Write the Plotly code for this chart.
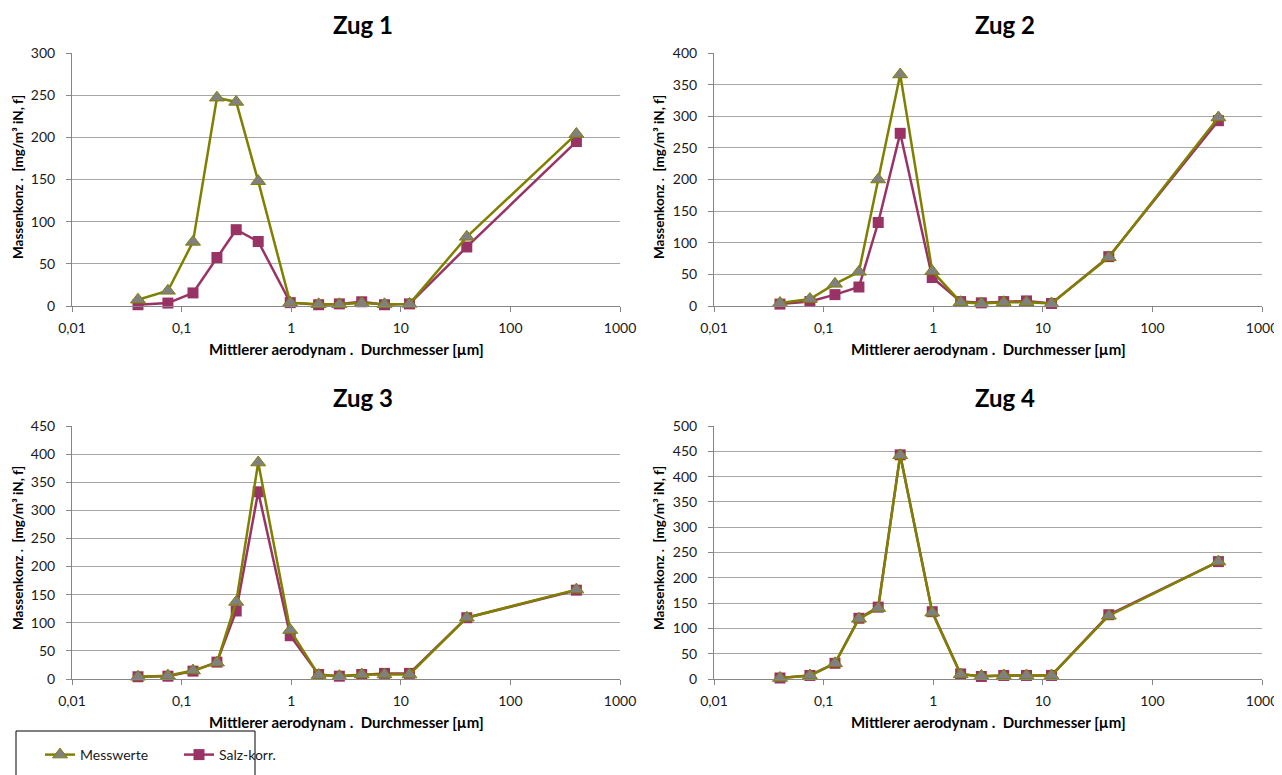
import plotly.graph_objects as go

# ---- data ----
diameters = [0.04, 0.075, 0.127, 0.21, 0.315, 0.5, 0.98, 1.78, 2.75, 4.4, 7.1, 12, 40, 400]
zug1_mess = [7.5, 18, 76, 247, 242, 148, 4, 2, 2, 3.5, 2, 2.5, 82, 204]
zug1_salz = [1.5, 3.5, 15.5, 57.5, 90.5, 76.5, 4, 1.5, 2.5, 5, 1.5, 2.5, 70, 195]
zug2_mess = [4.7, 11, 35, 54, 200, 366, 55, 6, 4, 6, 6, 4, 77, 298]
zug2_salz = [3, 7, 18, 30, 132, 273, 45, 7, 5, 7, 8, 4, 78, 293]
zug3_mess = [4, 6, 15, 29, 137, 385, 87, 7, 5, 8, 8, 8, 109, 159]
zug3_salz = [4, 5, 14, 30, 121, 333, 77, 8, 5, 8, 10, 10, 109, 158]
zug4_mess = [2, 7, 31, 119, 140, 442, 131, 9, 6, 7, 7, 7, 125, 232]
zug4_salz = [2, 7, 31, 120, 142, 443, 133, 10, 5, 7, 7, 7, 127, 232]

panel_titles = ["Zug 1", "Zug 2", "Zug 3", "Zug 4"]
y_max = [300, 400, 450, 500]
x_tickvals = [0.01, 0.1, 1, 10, 100, 1000]
x_ticktext = ["0,01", "0,1", "1", "10", "100", "1000"]
series_names = ["Messwerte", "Salz-korr."]

mess = [zug1_mess, zug2_mess, zug3_mess, zug4_mess]
salz = [zug1_salz, zug2_salz, zug3_salz, zug4_salz]

# page is shown with an 8px body margin, so figure coords = page coords - 8
OFF = 8
W, H = 1282 - OFF, 775 - OFF
OLIVE = "#808000"
GRAYM = "#808080"
BERRY = "#993366"
FONT = "Lato"


def px(xp):
    return (xp - OFF) / W


def py(yp):
    return 1 - (yp - OFF) / H


# panel pixel boxes in page coords: (left, right, top, bottom)
boxes = [(72, 620, 53, 306), (714, 1262, 53, 306),
         (72, 620, 426, 679), (714, 1262, 426, 679)]

fig = go.Figure()

for i in range(4):
    l, r, t, b = boxes[i]
    xa = "x" if i == 0 else f"x{i+1}"
    ya = "y" if i == 0 else f"y{i+1}"
    fig.add_trace(go.Scatter(
        x=diameters, y=salz[i], mode="lines+markers", name=series_names[1],
        xaxis=xa, yaxis=ya, legendgroup="s", showlegend=(i == 2), legendrank=2,
        line=dict(color=BERRY, width=2.5),
        marker=dict(symbol="square", size=11, color=BERRY),
        cliponaxis=False))
    fig.add_trace(go.Scatter(
        x=diameters, y=mess[i], mode="lines+markers", name=series_names[0],
        xaxis=xa, yaxis=ya, legendgroup="m", showlegend=(i == 2), legendrank=1,
        line=dict(color=OLIVE, width=2.5),
        marker=dict(symbol="triangle-up", size=13, color=GRAYM,
                    line=dict(color=OLIVE, width=1)),
        cliponaxis=False))

    xkey = "xaxis" if i == 0 else f"xaxis{i+1}"
    ykey = "yaxis" if i == 0 else f"yaxis{i+1}"
    fig.update_layout(**{
        xkey: dict(type="log", range=[-2, 3], domain=[px(l), px(r)],
                   anchor=ya, tickvals=x_tickvals, ticktext=x_ticktext,
                   showgrid=False, showline=True, linecolor="#868686", linewidth=1,
                   ticks="outside", ticklen=5, tickcolor="#868686",
                   ticklabelstandoff=4, automargin=False,
                   tickfont=dict(family=FONT, size=14, color="#1a1a1a"),
                   zeroline=False, fixedrange=True),
        ykey: dict(range=[0, y_max[i]], dtick=50, domain=[py(b), py(t)],
                   anchor=xa, showgrid=True, gridcolor="#A6A6A6", gridwidth=1,
                   showline=True, linecolor="#868686", linewidth=1,
                   ticks="outside", ticklen=5, tickcolor="#868686",
                   ticklabelstandoff=8, automargin=False,
                   tickfont=dict(family=FONT, size=14, color="#1a1a1a"),
                   zeroline=False, fixedrange=True),
    })

annotations = []
title_pos = [(363, 25), (1005, 25), (363, 397), (1005, 397)]
xt_pos = [(346, 349), (988, 349), (346, 722), (988, 722)]
yt_pos = [(18, 177), (659, 177), (18, 548), (659, 548)]
for i in range(4):
    annotations.append(dict(text=f"<b>{panel_titles[i]}</b>", x=px(title_pos[i][0]),
                            y=py(title_pos[i][1]), xref="paper", yref="paper",
                            showarrow=False, font=dict(family=FONT, size=24, color="black"),
                            xanchor="center", yanchor="middle"))
    annotations.append(dict(text="<b>Mittlerer aerodynam .  Durchmesser [µm]</b>",
                            x=px(xt_pos[i][0]), y=py(xt_pos[i][1]),
                            xref="paper", yref="paper", showarrow=False,
                            font=dict(family=FONT, size=15, color="black"),
                            xanchor="center", yanchor="middle"))
    annotations.append(dict(text="<b>Massenkonz .  [mg/m³ iN, f]</b>",
                            x=px(yt_pos[i][0]), y=py(yt_pos[i][1]),
                            xref="paper", yref="paper", showarrow=False, textangle=-90,
                            borderpad=0,
                            font=dict(family=FONT, size=13.5, color="black"),
                            xanchor="center", yanchor="middle"))

fig.update_layout(
    width=W, height=H, margin=dict(l=0, r=0, t=0, b=0, autoexpand=False),
    paper_bgcolor="white", plot_bgcolor="white",
    annotations=annotations,
    shapes=[dict(type="rect", xref="paper", yref="paper",
                 x0=px(16), x1=px(255), y0=-0.05, y1=py(731),
                 line=dict(color="black", width=1), fillcolor="rgba(0,0,0,0)")],
    legend=dict(orientation="h", x=px(40), y=py(755), xanchor="left", yanchor="middle",
                font=dict(family=FONT, size=14, color="#1a1a1a"),
                bgcolor="rgba(0,0,0,0)", entrywidth=94, traceorder="normal"),
)

fig.write_html("out.html")
